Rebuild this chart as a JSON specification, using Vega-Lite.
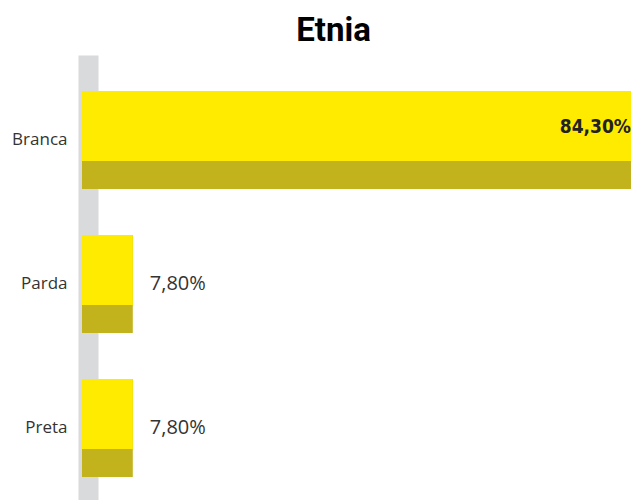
{
  "$schema": "https://vega.github.io/schema/vega-lite/v6.json",
  "autosize": {"type": "none"},
  "padding": {"left": 82, "top": 55, "right": 0, "bottom": 0},
  "width": 549,
  "height": 445,
  "background": "white",
  "config": {"view": {"stroke": null}},
  "title": {"text": "Etnia", "font": "Roboto", "fontSize": 33, "fontWeight": "bold", "anchor": "middle", "dx": -23, "dy": 32, "baseline": "bottom", "offset": 6, "color": "#000000"},
  "data": {"values": [
    {"etnia": "Branca", "pct": 84.3, "label": "84,30%"},
    {"etnia": "Parda", "pct": 7.8, "label": "7,80%"},
    {"etnia": "Preta", "pct": 7.8, "label": "7,80%"}
  ]},
  "encoding": {
    "y": {"field": "etnia", "type": "nominal", "sort": null,
      "scale": {"paddingInner": 0.32, "paddingOuter": 0.205, "align": 0.61},
      "axis": {"title": null, "ticks": false, "domainColor": "#d9dadb", "domainWidth": 20, "domainCap": "butt", "offset": -6, "labelPadding": 21, "labelFont": "Open Sans", "labelFontSize": 17, "labelColor": "#333333", "zindex": 0}},
    "x": {"field": "pct", "type": "quantitative", "scale": {"domain": [0, 84.3], "nice": false, "zero": true}, "axis": null}
  },
  "layer": [
    {"mark": {"type": "bar", "size": 98, "color": "#C2B31D"}},
    {"mark": {"type": "bar", "size": 70, "yOffset": -14, "color": "#FFEB00"}},
    {"transform": [{"filter": "datum.pct > 50"}],
     "mark": {"type": "text", "align": "right", "baseline": "middle", "dx": 0, "dy": -13, "font": "DejaVu Sans Condensed", "fontSize": 19, "fontWeight": "bold", "color": "#222222"},
     "encoding": {"text": {"field": "label"}}},
    {"transform": [{"filter": "datum.pct <= 50"}],
     "mark": {"type": "text", "align": "left", "baseline": "middle", "dx": 17, "font": "Open Sans", "fontSize": 20, "color": "#333333"},
     "encoding": {"text": {"field": "label"}}}
  ]
}
